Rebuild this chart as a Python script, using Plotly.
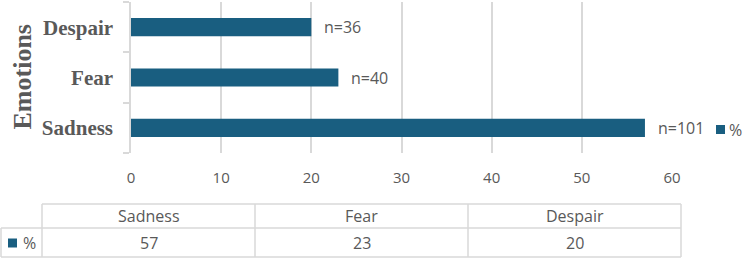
import plotly.graph_objects as go

# ---- data ----
categories = ["Sadness", "Fear", "Despair"]
percent = [57, 23, 20]
counts = [101, 40, 36]
series_name = "%"
x_ticks = [0, 10, 20, 30, 40, 50, 60]
axis_title = "Emotions"

# ---- style ----
W, H = 744, 260
L, R, T, B = 131, 72, 2, 107
BAR = "#195e80"
GRAY = "#595959"
LINE = "#d9d9d9"
SANS = "Open Sans"
SERIF = "Liberation Serif"

PW = W - L - R
PH = H - T - B


def px(x):
    return (x - L) / PW


def py(y):
    return (H - B - y) / PH


fig = go.Figure()
fig.add_trace(go.Bar(
    x=percent, y=categories, orientation="h", name=series_name,
    marker=dict(color=BAR, line=dict(width=0)), showlegend=False,
))

annotations = []
# n= labels next to bars
for cat, v, n in zip(categories, percent, counts):
    annotations.append(dict(
        x=v, y=cat, xref="x", yref="y", text=f"n={n}", showarrow=False,
        xanchor="left", yanchor="middle", xshift=11,
        font=dict(family=SANS, size=16, color=GRAY),
    ))

# y axis title
annotations.append(dict(
    x=px(22), y=py(77.5), xref="paper", yref="paper", text=axis_title,
    textangle=-90, showarrow=False, xanchor="center", yanchor="middle",
    font=dict(family=SERIF, size=26, color=GRAY, weight="bold"),
))

shapes = []
# legend
shapes.append(dict(type="rect", xref="paper", yref="paper",
                   x0=px(716), x1=px(725), y0=py(134), y1=py(125),
                   fillcolor=BAR, line=dict(width=0)))
annotations.append(dict(x=px(727), y=py(129.5), xref="paper", yref="paper",
                        text=series_name, showarrow=False, xanchor="left",
                        yanchor="middle",
                        font=dict(family=SANS, size=16, color=GRAY)))

# data table
col_x = [42, 255, 468, 681]
row_y = [204, 228, 257]
left_x = 1


def hline(y, x0, x1):
    shapes.append(dict(type="line", xref="paper", yref="paper",
                       x0=px(x0), x1=px(x1), y0=py(y), y1=py(y),
                       line=dict(color=LINE, width=1.5)))


def vline(x, y0, y1):
    shapes.append(dict(type="line", xref="paper", yref="paper",
                       x0=px(x), x1=px(x), y0=py(y0), y1=py(y1),
                       line=dict(color=LINE, width=1.5)))


hline(row_y[0], col_x[0], col_x[-1])
hline(row_y[1], left_x, col_x[-1])
hline(row_y[2], left_x, col_x[-1])
vline(left_x, row_y[1], row_y[2])
for cx in col_x:
    vline(cx, row_y[0], row_y[2])

for i, (cat, v) in enumerate(zip(categories, percent)):
    cxm = (col_x[i] + col_x[i + 1]) / 2
    annotations.append(dict(x=px(cxm), y=py((row_y[0] + row_y[1]) / 2), xref="paper", yref="paper",
                            text=cat, showarrow=False, xanchor="center", yanchor="middle",
                            font=dict(family=SANS, size=16, color=GRAY)))
    annotations.append(dict(x=px(cxm), y=py((row_y[1] + row_y[2]) / 2), xref="paper", yref="paper",
                            text=str(v), showarrow=False, xanchor="center", yanchor="middle",
                            font=dict(family=SANS, size=16, color=GRAY)))

# table row key
shapes.append(dict(type="rect", xref="paper", yref="paper",
                   x0=px(8), x1=px(17), y0=py(247.5), y1=py(238.5),
                   fillcolor=BAR, line=dict(width=0)))
annotations.append(dict(x=px(21), y=py(243), xref="paper", yref="paper",
                        text=series_name, showarrow=False, xanchor="left",
                        yanchor="middle",
                        font=dict(family=SANS, size=16, color=GRAY)))

fig.update_layout(
    width=W, height=H,
    margin=dict(l=L, r=R, t=T, b=B, pad=0),
    plot_bgcolor="white", paper_bgcolor="white",
    bargap=0.64,
    showlegend=False,
    xaxis=dict(range=[0, 60], tickvals=x_ticks, showgrid=True, gridcolor=LINE,
               gridwidth=1.5, zeroline=False, showline=False, ticks="",
               tickfont=dict(family=SANS, size=15, color=GRAY),
               ticklabelstandoff=14),
    yaxis=dict(categoryorder="array", categoryarray=categories,
               showgrid=False, zeroline=False, showline=True, linecolor=LINE,
               linewidth=1.5, ticks="outside", tickson="boundaries", ticklen=6,
               tickcolor=LINE, tickwidth=1.5,
               tickfont=dict(family=SERIF, size=21, color=GRAY, weight="bold"),
               ticklabelstandoff=12),
    annotations=annotations,
    shapes=shapes,
)

fig.write_html("out.html")
